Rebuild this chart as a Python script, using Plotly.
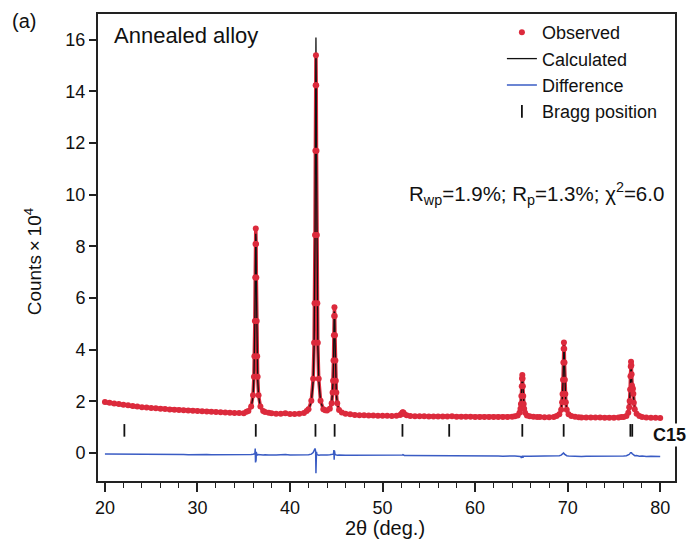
import plotly.graph_objects as go

# ---------------- data ----------------
two_theta = [
    20.0, 20.5, 21.0, 21.5, 22.0, 22.5, 23.0, 23.5, 24.0, 24.5, 25.0, 25.5, 26.0, 26.5, 27.0, 27.5,
    28.0, 28.5, 29.0, 29.5, 30.0, 30.5, 31.0, 31.5, 32.0, 32.5, 33.0, 33.5, 34.0, 34.5, 35.0,
    35.3, 35.5, 35.8, 36.0, 36.1, 36.15, 36.2, 36.24, 36.27, 36.3, 36.33, 36.36, 36.4, 36.45, 36.5, 36.6, 36.8, 37.1, 37.3,
    37.7, 38.0, 38.5, 39.0, 39.5, 40.0, 40.5, 41.0, 41.5, 41.8,
    42.0, 42.3, 42.5, 42.6, 42.65, 42.7, 42.74, 42.77, 42.8, 42.83, 42.86, 42.9, 42.95, 43.0, 43.1, 43.3, 43.6, 43.8,
    44.0, 44.3, 44.5, 44.6, 44.65, 44.7, 44.74, 44.77, 44.8, 44.83, 44.86, 44.9, 44.95, 45.0, 45.1, 45.3, 45.6,
    46.0, 46.5, 47.0, 47.5, 48.0, 48.5, 49.0, 49.5, 50.0, 50.5, 51.0, 51.5,
    51.9, 52.05, 52.15, 52.2, 52.25, 52.35, 52.6,
    53.0, 53.5, 54.0, 54.5, 55.0, 55.5, 56.0, 56.5, 57.0, 57.5, 58.0, 58.5, 59.0, 59.5, 60.0, 60.5,
    61.0, 61.5, 62.0, 62.5, 63.0, 63.5, 64.0,
    64.3, 64.6, 64.8, 64.9, 64.95, 65.0, 65.04, 65.07, 65.1, 65.13, 65.16, 65.2, 65.25, 65.3, 65.4, 65.6, 65.9,
    66.3, 66.7, 67.0, 67.5, 68.0, 68.5,
    68.8, 69.1, 69.3, 69.4, 69.45, 69.5, 69.54, 69.57, 69.6, 69.63, 69.66, 69.7, 69.75, 69.8, 69.9, 70.1, 70.4,
    70.8, 71.2, 71.5, 72.0, 72.5, 73.0, 73.5, 74.0, 74.5, 75.0, 75.5, 75.8,
    76.05, 76.35, 76.55, 76.65, 76.7, 76.75, 76.79, 76.82, 76.85, 76.88, 76.91, 76.95, 77.0, 77.05, 77.1, 77.15,
    77.25, 77.45, 77.75, 78.05, 78.5, 79.0, 79.5, 80.0,
]

observed = [
    1.98, 1.95, 1.92, 1.90, 1.87, 1.85, 1.82, 1.80, 1.78, 1.77, 1.75, 1.74, 1.72, 1.71, 1.69, 1.68,
    1.67, 1.66, 1.65, 1.64, 1.63, 1.62, 1.61, 1.60, 1.59, 1.58, 1.57, 1.56, 1.55, 1.55, 1.54,
    1.60, 1.63, 1.80, 2.24, 2.96, 3.75, 5.11, 6.80, 8.10, 8.70, 8.10, 6.80, 5.11, 3.75, 2.96, 2.24, 1.80, 1.63, 1.59,
    1.56, 1.54, 1.52, 1.52, 1.54, 1.51, 1.51, 1.52, 1.55, 1.63,
    1.70, 2.03, 2.88, 4.27, 5.80, 8.44, 11.71, 14.24, 15.40, 14.24, 11.71, 8.44, 5.80, 4.27, 2.88, 2.03, 1.70, 1.66,
    1.65, 1.72, 1.93, 2.35, 2.80, 3.59, 4.56, 5.31, 5.65, 5.31, 4.56, 3.59, 2.80, 2.35, 1.93, 1.67, 1.57,
    1.52, 1.50, 1.48, 1.47, 1.47, 1.46, 1.46, 1.45, 1.45, 1.45, 1.44, 1.45,
    1.48, 1.52, 1.57, 1.58, 1.56, 1.51, 1.47,
    1.44, 1.43, 1.43, 1.43, 1.42, 1.42, 1.42, 1.42, 1.42, 1.43, 1.41, 1.41, 1.41, 1.41, 1.40, 1.40,
    1.40, 1.40, 1.40, 1.40, 1.40, 1.40, 1.41,
    1.43, 1.46, 1.56, 1.72, 1.90, 2.21, 2.59, 2.89, 3.02, 2.89, 2.59, 2.21, 1.90, 1.72, 1.56, 1.46, 1.43,
    1.41, 1.40, 1.40, 1.39, 1.39, 1.40,
    1.44, 1.50, 1.68, 1.97, 2.29, 2.84, 3.51, 4.04, 4.28, 4.04, 3.51, 2.84, 2.29, 1.97, 1.68, 1.50, 1.44,
    1.41, 1.39, 1.38, 1.38, 1.38, 1.38, 1.38, 1.37, 1.37, 1.37, 1.38, 1.40,
    1.40, 1.44, 1.56, 1.78, 2.02, 2.46, 2.98, 3.35, 3.54, 3.40, 3.05, 2.62, 2.45, 2.50, 2.30, 1.95,
    1.70, 1.52, 1.44, 1.40, 1.38, 1.37, 1.37, 1.36,
]

difference = [
    -0.03, -0.03, -0.04, -0.03, -0.04, -0.04, -0.03, -0.04, -0.05, -0.04, -0.04, -0.05, -0.04, -0.05, -0.05, -0.04,
    -0.05, -0.05, -0.06, -0.05, -0.05, -0.06, -0.05, -0.06, -0.06, -0.05, -0.06, -0.06, -0.06, -0.07, -0.06,
    -0.06, -0.06, -0.05, -0.04, -0.03, -0.02, -0.02, 0.18, -0.36, 0.12, -0.28, 0.05, -0.10, -0.06, -0.05, -0.06, -0.06, -0.07, -0.06,
    -0.07, -0.06, -0.07, -0.06, -0.05, -0.07, -0.07, -0.06, -0.07, -0.06,
    -0.06, -0.04, 0.02, 0.10, 0.16, 0.18, 0.12, 0.05, -0.78, -0.30, 0.05, -0.04, -0.06, -0.07, -0.08, -0.07, -0.08, -0.07,
    -0.07, -0.06, -0.06, -0.05, -0.04, -0.02, 0.12, -0.26, 0.10, -0.20, -0.04, -0.06, -0.07, -0.07, -0.08, -0.07, -0.08,
    -0.08, -0.08, -0.08, -0.09, -0.08, -0.09, -0.08, -0.09, -0.09, -0.08, -0.09, -0.09,
    -0.09, -0.08, -0.07, -0.06, -0.08, -0.09, -0.09,
    -0.09, -0.10, -0.09, -0.10, -0.10, -0.09, -0.10, -0.10, -0.10, -0.11, -0.10, -0.10, -0.11, -0.10, -0.11, -0.11,
    -0.10, -0.11, -0.11, -0.11, -0.12, -0.11, -0.11,
    -0.11, -0.12, -0.12, -0.13, -0.15, -0.19, -0.12, -0.17, -0.10, -0.14, -0.18, -0.13, -0.12, -0.12, -0.11, -0.12, -0.12,
    -0.12, -0.11, -0.12, -0.12, -0.11, -0.12,
    -0.11, -0.10, -0.08, -0.06, -0.04, -0.02, 0.00, -0.03, 0.00, -0.02, -0.04, -0.05, -0.07, -0.09, -0.10, -0.11, -0.12,
    -0.12, -0.12, -0.13, -0.12, -0.12, -0.13, -0.12, -0.13, -0.13, -0.12, -0.12, -0.11,
    -0.11, -0.10, -0.08, -0.05, -0.03, 0.00, 0.02, 0.03, 0.00, 0.03, 0.01, -0.02, -0.04, -0.03, -0.06, -0.08,
    -0.10, -0.09, -0.12, -0.11, -0.13, -0.12, -0.13, -0.13,
]

DIFF_BASELINE = -0.09
calculated = [o - (d - DIFF_BASELINE) for o, d in zip(observed, difference)]

bragg_positions = [22.1, 36.3, 42.75, 44.82, 52.15, 57.2, 65.1, 69.57, 76.78, 76.98]
BRAGG_LEVEL = 0.88

y_ticks = [0, 2, 4, 6, 8, 10, 12, 14, 16]
x_ticks = [20, 30, 40, 50, 60, 70, 80]

FONT = "Liberation Sans, Arial, sans-serif"
RED = "#dc2a3c"
BLUE = "#3a5cc4"

fig = go.Figure()

# observed data drawn as a thin red band underneath
fig.add_trace(go.Scatter(
    x=two_theta, y=observed, mode="lines", showlegend=False, hoverinfo="skip",
    line=dict(color=RED, width=3.5),
))
fig.add_trace(go.Scatter(
    x=two_theta, y=calculated, mode="lines", name="Calculated",
    line=dict(color="#111111", width=1.3), legendrank=2,
))
fig.add_trace(go.Scatter(
    x=two_theta, y=observed, mode="markers", name="Observed",
    marker=dict(color=RED, size=6, line=dict(width=0)), legendrank=1,
))
fig.add_trace(go.Scatter(
    x=two_theta, y=difference, mode="lines", name="Difference",
    line=dict(color=BLUE, width=1.5), legendrank=3,
))
fig.add_trace(go.Scatter(
    x=bragg_positions, y=[BRAGG_LEVEL] * len(bragg_positions), mode="markers",
    name="Bragg position",
    marker=dict(symbol="line-ns", size=9, color="#111111", line=dict(width=1.8, color="#111111")),
    legendrank=4,
))

axis_common = dict(
    showline=True, linecolor="#222222", linewidth=2, mirror=True,
    showgrid=False, zeroline=False, ticks="outside", tickcolor="#222222",
    tickwidth=1.5, tickfont=dict(family=FONT, size=18, color="#111111"),
)

fig.update_xaxes(
    range=[19.25, 81.6], tickvals=x_ticks, ticklen=9,
    minor=dict(dtick=2, tick0=20, ticks="outside", ticklen=5, tickwidth=1.2, tickcolor="#222222"),
    **axis_common,
)
fig.update_yaxes(range=[-1.08, 17.0], tickvals=y_ticks, ticklen=7, **axis_common)

annotations = [
    dict(text="(a)", x=-0.128, y=0.985, font=dict(size=20)),
    dict(text="Annealed alloy", x=0.025, y=0.955, xanchor="left", font=dict(size=22)),
    dict(text="R<sub>wp</sub>=1.9%; R<sub>p</sub>=1.3%; χ<sup>2</sup>=6.0", x=0.984, y=0.615,
         xanchor="right", font=dict(size=20.5)),
    dict(text="<b>C15</b>", x=0.99, y=0.098, font=dict(size=18), bgcolor="white"),
    dict(text="Counts\u2009×\u200910<sup>4</sup>", x=-0.113, y=0.47, textangle=-90, font=dict(size=19)),
    dict(text="2θ (deg.)", x=0.497, y=-0.1, font=dict(size=20)),
]
for a in annotations:
    a.setdefault("xanchor", "center")
    a.setdefault("yanchor", "middle")
    a["font"].update(family=FONT, color="#111111")
    fig.add_annotation(xref="paper", yref="paper", showarrow=False, **a)

fig.update_layout(
    width=690, height=549,
    margin=dict(l=98, r=15, t=14, b=68),
    paper_bgcolor="white", plot_bgcolor="white",
    showlegend=True,
    legend=dict(
        x=0.70, y=1.0, xanchor="left", yanchor="top",
        bgcolor="rgba(0,0,0,0)", borderwidth=0,
        font=dict(family=FONT, size=18, color="#111111"),
        itemsizing="trace", tracegroupgap=0,
    ),
)

fig.write_html("out.html")
